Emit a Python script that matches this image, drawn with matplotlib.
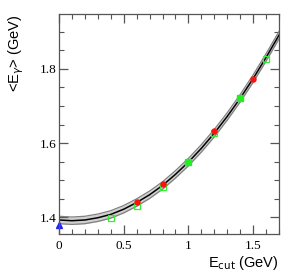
import numpy as np
import matplotlib
matplotlib.use("Agg")
import matplotlib.pyplot as plt
from matplotlib.ticker import MultipleLocator

# fitted curve
curve_x = [0.0, 0.1, 0.2, 0.3, 0.4, 0.5, 0.6, 0.7, 0.8, 0.9,
           1.0, 1.1, 1.2, 1.3, 1.4, 1.5, 1.6, 1.7]
curve_y = [1.393, 1.391, 1.393, 1.399, 1.408, 1.422, 1.440, 1.461, 1.486, 1.516,
           1.549, 1.586, 1.627, 1.672, 1.721, 1.774, 1.831, 1.891]
band_half = 0.010

# measurements
blue_x = [0.0]
blue_y = [1.380]
red_x = [0.6, 0.8, 1.2, 1.5]
red_y = [1.442, 1.489, 1.632, 1.774]
green_open_x = [0.4, 0.6, 0.8, 1.2, 1.6]
green_open_y = [1.398, 1.431, 1.482, 1.627, 1.826]
green_full_x = [1.0, 1.4]
green_full_y = [1.549, 1.721]

fig = plt.figure(figsize=(2.94, 2.80), dpi=100)
ax = fig.add_axes([0.2007, 0.164, 0.7483, 0.786])

cy = np.array(curve_y)
ax.fill_between(curve_x, cy - band_half, cy + band_half, color="#d0d0d0", lw=0)
ax.plot(curve_x, cy - band_half, color="#808080", lw=0.9)
ax.plot(curve_x, cy + band_half, color="#808080", lw=0.9)
ax.plot(curve_x, curve_y, color="black", lw=1.1)

ax.plot(green_open_x, green_open_y, ls="none", marker="s", ms=4,
        mfc="none", mec="#33ee33", mew=0.9)
ax.plot(red_x, red_y, ls="none", marker="o", ms=3.6, color="#ff1010")
ax.plot(green_full_x, green_full_y, ls="none", marker="s", ms=4, color="#22ee22")
ax.plot(blue_x, blue_y, ls="none", marker="^", ms=4.2, color="#2020ff", clip_on=False)

ax.set_xlim(0, 1.7)
ax.set_ylim(1.355, 1.948)

ax.xaxis.set_major_locator(MultipleLocator(0.5))
ax.xaxis.set_minor_locator(MultipleLocator(0.1))
ax.yaxis.set_major_locator(MultipleLocator(0.2))
ax.yaxis.set_minor_locator(MultipleLocator(0.05))
ax.xaxis.set_major_formatter(plt.FuncFormatter(lambda v, p: f"{v:g}"))
ax.yaxis.set_major_formatter(plt.FuncFormatter(lambda v, p: f"{v:.1f}"))

ax.tick_params(which="both", direction="in", top=True, right=True,
               color="#555555", labelsize=9.5)
ax.tick_params(which="major", length=6.5, width=0.9)
ax.tick_params(which="minor", length=3.5, width=0.8)
ax.tick_params(axis="x", pad=4)
ax.tick_params(axis="y", pad=2)
for lab in ax.get_xticklabels() + ax.get_yticklabels():
    lab.set_fontfamily("Liberation Serif")
for s in ax.spines.values():
    s.set_color("#555555")
    s.set_linewidth(0.9)

ax.set_xlabel(r"E$_{\rm cut}$ (GeV)", fontsize=10.5, fontfamily="Liberation Sans",
              loc="right", labelpad=2)
ax.set_ylabel(r"<E$_{\gamma}$> (GeV)", fontsize=10.5, fontfamily="Liberation Sans",
              loc="top", labelpad=10)

fig.savefig("out.png", dpi=100)
